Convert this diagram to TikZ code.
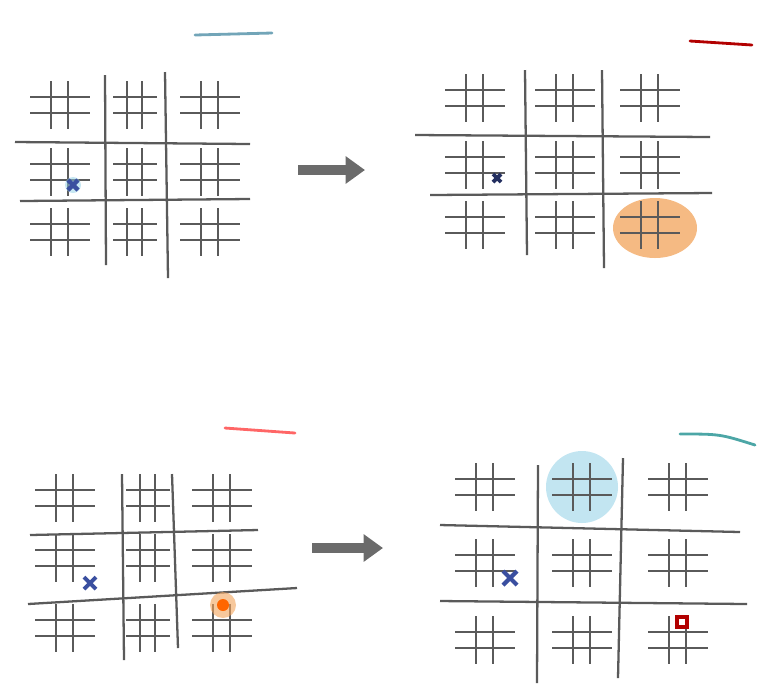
\documentclass[tikz,border=0pt]{standalone}
\usepackage{tikz}
\usetikzlibrary{arrows.meta}

\definecolor{pencil}{HTML}{5A5A5A}
\definecolor{xblue}{HTML}{3A4FA0}
\definecolor{hlorange}{HTML}{F2A35A}
\definecolor{hlblue}{HTML}{8FCFE6}

\tikzset{
  hash/.pic={
    \draw[pencil,line width=0.5pt] (-9,-24) -- (-9,24);
    \draw[pencil,line width=0.5pt] (8,-24) -- (8,24);
    \draw[pencil,line width=0.5pt] (-30,-8) -- (30,-8);
    \draw[pencil,line width=0.5pt] (-30,8) -- (30,8);
  },
  slimhash/.pic={
    \draw[pencil,line width=0.5pt] (-8,-24) -- (-8,24);
    \draw[pencil,line width=0.5pt] (7,-24) -- (7,24);
    \draw[pencil,line width=0.5pt] (-22,-8) -- (22,-8);
    \draw[pencil,line width=0.5pt] (-22,8) -- (22,8);
  },
  bigline/.style={pencil,line width=0.65pt},
  movearrow/.style={pencil!90,line width=2.6pt,-{Triangle[length=5.5pt,width=7.5pt]}},
  turnmark/.style={line width=0.8pt,line cap=round}
}

\begin{document}
\begin{tikzpicture}[x=0.01cm,y=-0.01cm]
\useasboundingbox (0,0) rectangle (770,693);

% board 1 (top left)
\foreach \x/\kind in {60/hash,135/slimhash,210/hash}
  \foreach \y in {105,172,232}
    \pic at (\x,\y) {\kind};
\draw[bigline] (105,75) -- (106,265);
\draw[bigline] (165,72) -- (168,278);
\draw[bigline] (15,142) -- (250,144);
\draw[bigline] (20,201) -- (250,199);
\fill[hlblue,opacity=0.5] (73,185) circle (8);
\draw[xblue,line width=1.3pt] (68,180) -- (78,190) (68,190) -- (78,180);
\draw[turnmark,hlblue!80!black] (195,35) -- (272,33);

\coordinate (a1s) at (298,170);
\coordinate (a1e) at (365,170);
\draw[movearrow] (a1s) -- (a1e);

% board 2 (top right)
\fill[hlorange,opacity=0.75] (655,228) ellipse (42 and 30);
\foreach \x in {475,565,650}
  \foreach \y in {98,165,225}
    \pic at (\x,\y) {hash};
\draw[bigline] (525,70) -- (527,255);
\draw[bigline] (602,70) -- (604,268);
\draw[bigline] (415,135) -- (710,137);
\draw[bigline] (430,195) -- (712,193);
\draw[xblue!60!black,line width=1.1pt] (493,174) -- (501,182) (493,182) -- (501,174);
\draw[turnmark,red!70!black] (690,41) -- (752,45);

% board 3 (bottom left)
\foreach \x/\kind in {65/hash,148/slimhash,222/hash}
  \foreach \y in {498,558,628}
    \pic at (\x,\y) {\kind};
\draw[bigline] (122,474) -- (124,660);
\draw[bigline] (172,474) -- (178,648);
\draw[bigline] (30,535) -- (258,530);
\draw[bigline] (28,604) -- (297,588);
\fill[hlorange,opacity=0.6] (223,605) circle (13);
\fill[orange!80!red] (223,605) circle (6);
\draw[xblue,line width=1.1pt] (84,577) -- (96,589) (84,589) -- (96,577);
\draw[turnmark,red!60] (225,428) -- (295,433);

\coordinate (a2s) at (312,548);
\coordinate (a2e) at (383,548);
\draw[movearrow] (a2s) -- (a2e);

% board 4 (bottom right)
\fill[hlblue,opacity=0.55] (582,487) circle (36);
\foreach \x in {485,582,678}
  \foreach \y in {487,563,640}
    \pic at (\x,\y) {hash};
\draw[bigline] (538,465) -- (537,683);
\draw[bigline] (623,458) -- (618,678);
\draw[bigline] (440,525) -- (740,532);
\draw[bigline] (440,601) -- (747,604);
\draw[xblue,line width=1.2pt] (503,571) -- (517,585) (503,585) -- (517,571);
\draw[red!70!black,line width=1pt] (677,617) rectangle (687,627);
\draw[turnmark,teal!70] (680,434) .. controls (720,434) .. (755,445);
\end{tikzpicture}
\end{document}
